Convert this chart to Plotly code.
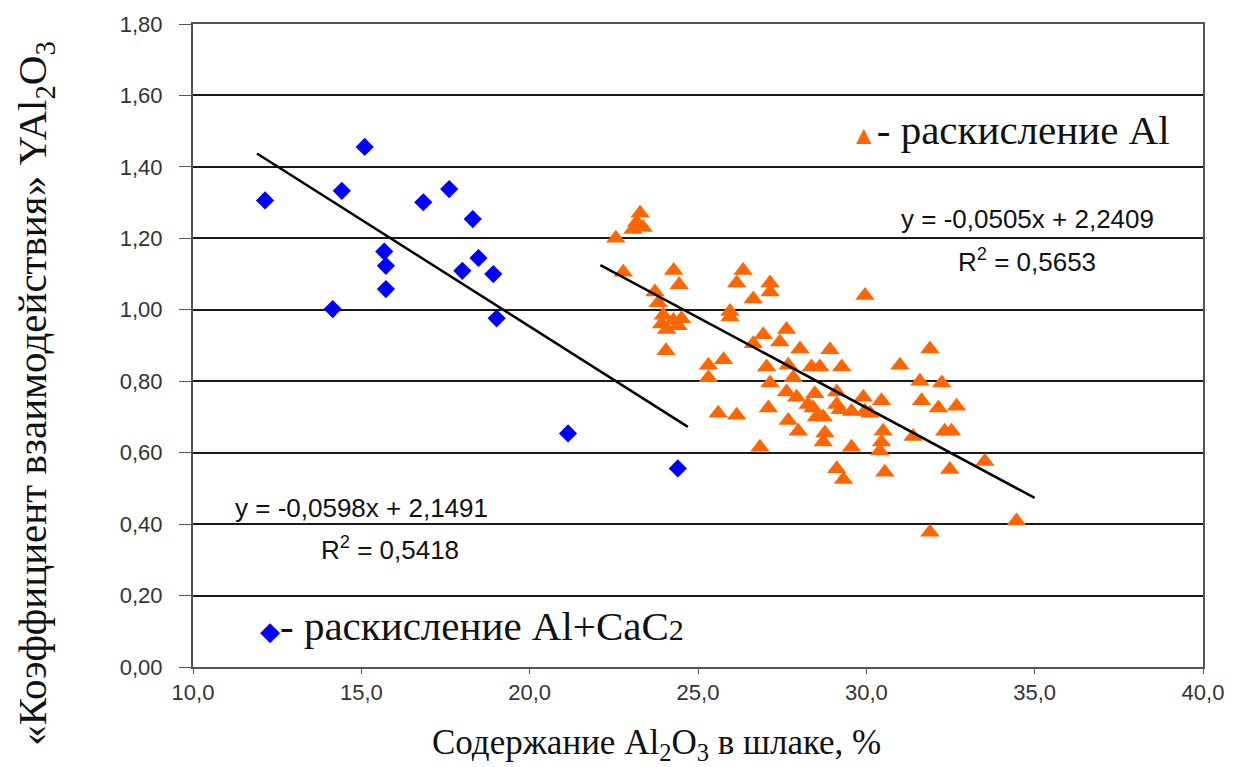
import plotly.graph_objects as go

# --- data ---
blue_x = [12.14, 14.42, 15.1, 14.15, 15.68, 15.73, 15.73, 16.84, 17.61, 18.31,
          18.48, 18.0, 18.92, 19.02, 21.14, 24.4]
blue_y = [1.306, 1.333, 1.456, 1.002, 1.163, 1.123, 1.058, 1.301, 1.338, 1.254,
          1.145, 1.109, 1.100, 0.976, 0.654, 0.556]

orange_x = [22.56, 23.28, 23.18, 23.07, 23.37, 22.78, 24.28, 24.44, 23.72, 23.82,
            23.97, 23.92, 24.27, 24.41, 24.51, 24.07, 24.05, 26.34, 26.15, 26.64,
            25.95, 25.95, 26.64, 25.31, 25.76, 25.31, 25.6, 26.15, 26.84, 27.14,
            27.14, 29.96, 26.94, 27.63, 27.43, 28.03, 28.92, 27.04, 27.68, 28.37,
            28.62, 29.27, 31.0, 27.14, 27.83, 27.63, 27.93, 28.47, 29.12, 29.91,
            30.45, 27.09, 28.42, 28.72, 29.22, 29.56, 30.11, 27.68, 27.98, 28.77,
            28.72, 30.5, 30.45, 30.4, 29.56, 29.12, 29.32, 30.55, 31.89, 31.59,
            32.24, 31.64, 32.14, 32.68, 32.33, 32.53, 31.39, 33.52, 32.48, 31.89,
            34.46, 28.27, 28.52, 29.12, 29.96]
orange_y = [1.20, 1.27, 1.245, 1.225, 1.23, 1.105, 1.11, 1.07, 1.05, 1.02,
            0.985, 0.96, 0.97, 0.955, 0.975, 0.945, 0.885, 1.11, 1.075, 1.03,
            0.995, 0.98, 0.905, 0.845, 0.86, 0.81, 0.71, 0.705, 0.615, 1.075,
            1.05, 1.04, 0.93, 0.945, 0.91, 0.89, 0.888, 0.84, 0.845, 0.84,
            0.84, 0.84, 0.845, 0.795, 0.81, 0.77, 0.755, 0.765, 0.77, 0.755,
            0.745, 0.725, 0.725, 0.70, 0.72, 0.715, 0.71, 0.69, 0.66, 0.655,
            0.63, 0.66, 0.63, 0.605, 0.615, 0.555, 0.525, 0.545, 0.89, 0.80,
            0.795, 0.745, 0.725, 0.73, 0.66, 0.66, 0.645, 0.575, 0.553, 0.377,
            0.409, 0.735, 0.70, 0.735, 0.716]

# trend lines (from the equations shown on the chart)
blue_fit = {"slope": -0.0598, "intercept": 2.1491, "x": [11.9, 24.7]}
orange_fit = {"slope": -0.0505, "intercept": 2.2409, "x": [22.1, 35.0]}

x_ticks = [10, 15, 20, 25, 30, 35, 40]
y_ticks = [0.0, 0.2, 0.4, 0.6, 0.8, 1.0, 1.2, 1.4, 1.6, 1.8]

BLUE = "#0000FF"
ORANGE = "#FF6600"
SANS = "Liberation Sans, Arial, sans-serif"
SERIF = "Liberation Serif, Times New Roman, serif"

fig = go.Figure()

fig.add_trace(go.Scatter(
    x=blue_x, y=blue_y, mode="markers",
    marker=dict(symbol="diamond", size=14, color=BLUE, line=dict(width=0)),
    showlegend=False))
fig.add_trace(go.Scatter(
    x=orange_x, y=orange_y, mode="markers",
    marker=dict(symbol="triangle-up", size=17, color=ORANGE, line=dict(width=0)),
    showlegend=False))

for fit in (blue_fit, orange_fit):
    xs = fit["x"]
    ys = [fit["slope"] * v + fit["intercept"] for v in xs]
    fig.add_trace(go.Scatter(x=xs, y=ys, mode="lines",
                             line=dict(color="black", width=2.5),
                             showlegend=False, hoverinfo="skip"))

ann_font = dict(family=SANS, size=26, color="#111111")
leg_font = dict(family=SERIF, size=41, color="#111111")
annotations = [
    dict(x=15.0, y=0.446, text="y = -0,0598x + 2,1491", font=ann_font),
    dict(x=15.85, y=0.331, text="R<sup>2</sup> = 0,5418", font=ann_font),
    dict(x=34.8, y=1.253, text="y = -0,0505x + 2,2409", font=ann_font),
    dict(x=34.77, y=1.139, text="R<sup>2</sup> = 0,5653", font=ann_font),
    dict(x=34.27, y=1.504,
         text=f"<span style='color:{ORANGE};font-size:26px'>▲</span>- раскисление Al",
         font=leg_font),
    dict(x=18.29, y=0.114,
         text=f"<span style='color:{BLUE};font-size:26px'>◆</span>- раскисление Al+CaC<span style='font-size:30px'>2</span>",
         font=leg_font),
]
for a in annotations:
    a.update(xref="x", yref="y", showarrow=False, xanchor="center", yanchor="middle")

# axis titles as paper-positioned annotations
annotations.append(dict(
    xref="paper", yref="paper", x=0.459, y=-0.121, showarrow=False,
    xanchor="center", yanchor="middle",
    text="Содержание Al<sub>2</sub>O<sub>3</sub> в шлаке, %",
    font=dict(family=SERIF, size=35, color="#111111")))
annotations.append(dict(
    xref="paper", yref="paper", x=-0.1564, y=0.425, showarrow=False,
    xanchor="center", yanchor="middle", textangle=-90,
    text="«Коэффициент взаимодействия» YAl<sub>2</sub>O<sub>3</sub>",
    font=dict(family=SERIF, size=41, color="#111111")))

fig.update_layout(
    width=1246, height=767,
    margin=dict(l=193, r=43, t=21, b=100),
    paper_bgcolor="white", plot_bgcolor="white",
    separators=", ",
    annotations=annotations,
    showlegend=False,
)

fig.update_xaxes(
    range=[10, 40], tickvals=x_ticks, tickformat=".1f",
    showgrid=False, zeroline=False,
    showline=True, linecolor="#555555", linewidth=2, mirror=True,
    ticks="outside", ticklen=5, tickcolor="#555555",
    tickfont=dict(family=SANS, size=22, color="#333333"),
)
fig.update_yaxes(
    range=[0, 1.8], tickvals=y_ticks, tickformat=".2f",
    showgrid=True, gridcolor="#1a1a1a", gridwidth=1.8, zeroline=False,
    showline=True, linecolor="#555555", linewidth=2, mirror=True,
    ticks="outside", ticklen=12, tickcolor="#555555",
    ticklabelstandoff=12,
    tickfont=dict(family=SANS, size=22, color="#333333"),
)

fig.write_html("out.html")
